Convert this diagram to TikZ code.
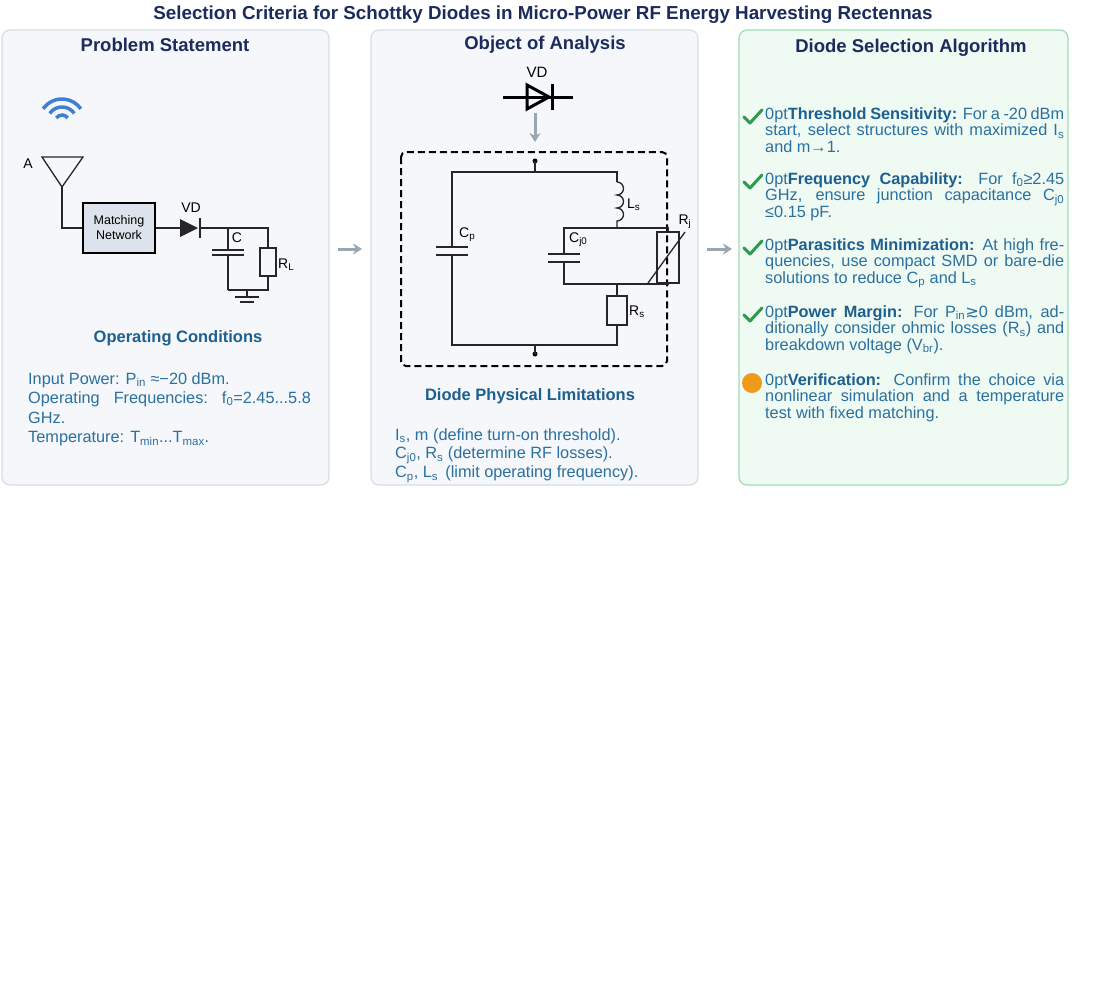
\documentclass[tikz,border=0pt]{standalone}
\usepackage{fontspec}
\setmainfont{Liberation Sans}
\newfontfamily\symfont{DejaVu Sans}
\usetikzlibrary{positioning,calc,arrows.meta}
\definecolor{paneFill}{HTML}{F5F7FA}
\definecolor{paneLine}{HTML}{D6DEE6}
\definecolor{greenFill}{HTML}{EFFAF3}
\definecolor{greenLine}{HTML}{9EDDB4}
\definecolor{txtBlue}{HTML}{2A70A0}
\definecolor{headBlue}{HTML}{1D5F8E}
\definecolor{titleBlue}{HTML}{1B2B5C}
\definecolor{waveBlue}{HTML}{3F7FD6}
\definecolor{arrGray}{HTML}{9AA6B2}
\definecolor{boxFill}{HTML}{DDE3EC}
\definecolor{okGreen}{HTML}{2E9A4E}
\definecolor{warnOrange}{HTML}{F09A1A}
\tikzset{
  pane/.style={draw=paneLine, fill=paneFill, line width=1.2pt, rounded corners=8pt},
  panetitle/.style={font=\fontsize{18.5}{22}\selectfont\bfseries, text=titleBlue},
  subhead/.style={font=\fontsize{16.5}{19}\selectfont\bfseries, text=headBlue},
  body/.style={font=\fontsize{16.3}{19}\selectfont, text=txtBlue, anchor=west, inner sep=0pt},
  item/.style={font=\fontsize{16.3}{16.5}\selectfont\hyphenpenalty=10000\exhyphenpenalty=10000, text=txtBlue, anchor=north west, inner sep=0pt, text width=299pt, align=justify},
  lbl/.style={font=\fontsize{14}{16}\selectfont, inner sep=1pt},
  wire/.style={line width=1.3pt, black!85},
  flow/.style={-{Stealth[length=9pt,width=11pt]}, line width=3pt, arrGray},
  check/.style={okGreen, line width=3pt, line cap=round, line join=round},
}
\newcommand{\capv}[3]{% vertical capacitor: x, plate1 y, plate2 y
  \draw[wire] (#1-16,#2) -- (#1+16,#2) (#1-16,#3) -- (#1+16,#3);}
\newcommand{\tick}[2]{\draw[check] (#1-9,#2) -- (#1-3,#2+6) -- (#1+9,#2-7);}
\begin{document}
\begin{tikzpicture}[x=1pt,y=-1pt]
\useasboundingbox (0,0) rectangle (1100,1005);
\fill[white] (0,0) rectangle (1100,1005);

% Title
\node[font=\fontsize{18.8}{22}\selectfont\bfseries, text=titleBlue] (title) at (543,15) {Selection Criteria for Schottky Diodes in Micro-Power RF Energy Harvesting Rectennas};

% Panels
\draw[pane] (2,30) rectangle (329,485);
\draw[pane] (371,30) rectangle (698,485);
\draw[pane, draw=greenLine, fill=greenFill] (739,30) rectangle (1068,485);
\node[panetitle] (t1) at (165,45) {Problem Statement};
\node[panetitle] (t2) at (545,45) {Object of Analysis};
\node[panetitle] (t3) at (911,48) {Diode Selection Algorithm};

% Flow arrows between panels
\coordinate (f1a) at (338,249); \coordinate (f1b) at (362,249);
\coordinate (f2a) at (707,249); \coordinate (f2b) at (732,249);
\draw[flow] (f1a) -- (f1b);
\draw[flow] (f2a) -- (f2b);

% ---- Left: rectenna circuit
\foreach \r in {7,15,23}
  \draw[waveBlue, line width=3.5pt] (62,122) ++(215:\r) arc[start angle=215, end angle=325, radius=\r];
\draw[wire] (42,157) -- (83,157) -- (62,187) -- cycle;
\node[lbl] (A) at (28,164) {A};
\node[draw, line width=1.3pt, fill=boxFill, minimum width=72pt, minimum height=50pt, align=center,
      font=\fontsize{12.5}{15}\selectfont] (mn) at (119,228) {Matching\\Network};
\draw[wire] (62,187) |- (mn.west);
\draw[wire] (mn.east) -- (180,228);
\fill[black!85] (180,219) -- (198,228) -- (180,237) -- cycle;
\draw[wire] (200,218) -- (200,238);
\node[lbl] (vd1) at (191,208) {VD};
\draw[wire] (200,228) -- (268,228) -- (268,248);
\draw[wire] (228,228) -- (228,250) (228,255) -- (228,290);
\capv{228}{250}{255}
\node[lbl] (C) at (237,238) {C};
\draw[wire] (260,248) rectangle (276,276);
\node[lbl, anchor=west] (RL) at (277,265) {R\textsubscript{L}};
\draw[wire] (268,276) -- (268,290) -- (228,290);
\draw[wire] (247,290) -- (247,297) (235,297) -- (259,297) (240,302) -- (254,302);

\node[subhead] (oc) at (178,338) {Operating Conditions};
\node[body] (l1) at (28,380) {Input Power: P\textsubscript{in} ≈−20 dBm.};
\node[body] (l2) at (28,399) {Operating\hspace{14pt}Frequencies:\hspace{14pt}f\textsubscript{0}=2.45...5.8};
\node[body] (l3) at (28,418) {GHz.};
\node[body] (l4) at (28,439) {Temperature: T\textsubscript{min}...T\textsubscript{max}.};

% ---- Middle: diode equivalent circuit
\node[lbl, font=\fontsize{15}{17}\selectfont] (vd2) at (537,72) {VD};
\draw[line width=3pt] (503,97) -- (573,97) (552,84) -- (552,110);
\draw[line width=3pt, line join=miter] (527,85) -- (549,97) -- (527,109) -- cycle;
\coordinate (da) at (535,113); \coordinate (db) at (535,142);
\draw[flow] (da) -- (db);
\draw[line width=2pt, dash pattern=on 7pt off 4pt, rounded corners=5pt] (401,152) rectangle (667,366);
\fill (535,161) circle (2.5pt); \fill (535,354) circle (2.5pt);
\draw[wire] (535,161) -- (535,172);
\draw[wire] (535,345) -- (535,354);
\draw[wire] (617,182) -- (617,172) -- (452,172) -- (452,247);
\draw[wire] (452,255) -- (452,345) -- (617,345) -- (617,325);
\capv{452}{247}{255}
\node[lbl, anchor=west] (Cp) at (458,235) {C\textsubscript{p}};
\draw[wire] (617,182) \foreach \k in {0,1,2} {arc[start angle=-90, end angle=90, radius=6.5]} -- (617,228);
\node[lbl, anchor=west] (Ls) at (626,205) {L\textsubscript{s}};
\draw[wire] (564,254) -- (564,228) -- (668,228) -- (668,232);
\draw[wire] (564,262) -- (564,284) -- (668,284) -- (668,283);
\capv{564}{254}{262}
\node[lbl, anchor=west] (Cj) at (568,240) {C\textsubscript{j0}};
\draw[wire] (657,232) rectangle (679,283);
\draw[wire] (648,283) -- (685,232);
\node[lbl] (Rj) at (685,222) {R\textsubscript{j}};
\draw[wire] (617,284) -- (617,296);
\draw[wire] (607,296) rectangle (627,325);
\node[lbl, anchor=west] (Rs) at (628,312) {R\textsubscript{s}};

\node[subhead] (dpl) at (530,396) {Diode Physical Limitations};
\node[body] (m1) at (395,436) {I\textsubscript{s}, m (define turn-on threshold).};
\node[body] (m2) at (395,455) {C\textsubscript{j0}, R\textsubscript{s} (determine RF losses).};
\node[body] (m3) at (395,474) {C\textsubscript{p}, L\textsubscript{s}\, (limit operating frequency).};

% ---- Right: algorithm steps
\tick{753}{117}
\node[item] (s1) at (765,107) {\textbf{\color{headBlue}Threshold Sensitivity:} For a -20 dBm start, select structures with maximized I\textsubscript{s} and m→1.};
\tick{753}{182}
\node[item] (s2) at (765,172) {\textbf{\color{headBlue}Frequency Capability:} For f\textsubscript{0}≥2.45 GHz, ensure junction capacitance C\textsubscript{j0} ≤0.15 pF.};
\tick{753}{248}
\node[item] (s3) at (765,238) {\textbf{\color{headBlue}Parasitics Minimization:} At high frequencies, use compact SMD or bare-die solutions to reduce C\textsubscript{p} and L\textsubscript{s}};
\tick{753}{315}
\node[item] (s4) at (765,305) {\textbf{\color{headBlue}Power Margin:} For P\textsubscript{in}{\symfont ≳}0 dBm, additionally consider ohmic losses (R\textsubscript{s}) and breakdown voltage (V\textsubscript{br}).};
\fill[warnOrange] (752,383) circle (10pt);
\node[item] (s5) at (765,373) {\textbf{\color{headBlue}Verification:} Confirm the choice via nonlinear simulation and a temperature test with fixed matching.};
\end{tikzpicture}
\end{document}
